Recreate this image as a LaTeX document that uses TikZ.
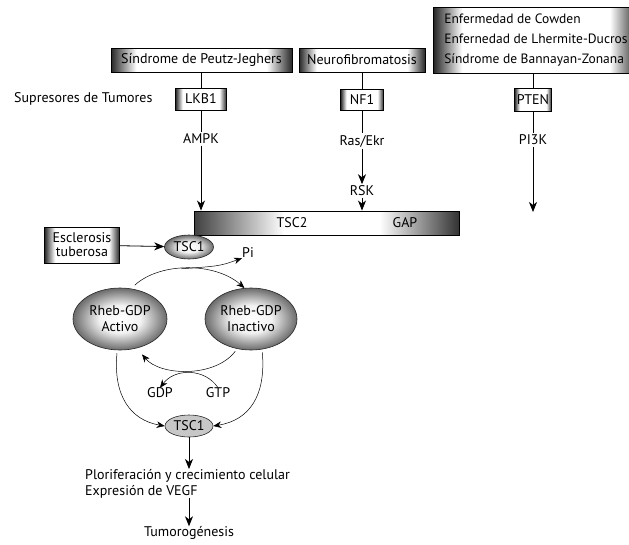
\documentclass[tikz,border=0pt]{standalone}
\usepackage{fontspec}
\setmainfont{PT Sans}
\usetikzlibrary{arrows.meta, positioning, shapes.geometric}

\pgfdeclarehorizontalshading{boxshade}{100bp}{color(0bp)=(black!85); color(25bp)=(black!85); color(32bp)=(white); color(68bp)=(white); color(75bp)=(black!85); color(100bp)=(black!85)}
\pgfdeclareradialshading{ovalshade}{\pgfpoint{0bp}{0bp}}{color(0bp)=(white); color(11bp)=(black!5); color(25bp)=(black!58); color(50bp)=(black!58)}
\pgfdeclarehorizontalshading{barshade}{100bp}{color(0bp)=(black!75); color(25bp)=(black!75); color(42bp)=(white); color(60bp)=(white); color(75bp)=(black!80); color(100bp)=(black!80)}

\begin{document}
\begin{tikzpicture}[x=1pt, y=-1pt,
  gbox/.style={rectangle, draw=black, line width=0.9pt, shading=boxshade,
    align=center, inner sep=0pt, minimum height=24pt,
    font=\fontsize{14}{16}\selectfont},
  gbar/.style={rectangle, draw=black, line width=0.9pt, shading=barshade,
    inner sep=0pt},
  goval/.style={ellipse, draw=black!85, line width=0.6pt, shading=ovalshade,
    align=center, inner sep=0pt,
    font=\fontsize{14}{16}\selectfont},
  lbl/.style={fill=white, inner sep=1.5pt, font=\fontsize{14}{16}\selectfont},
  txt/.style={inner sep=0pt, font=\fontsize{14}{16}\selectfont},
  arr/.style={-{Stealth[length=10pt, width=8pt, inset=3pt]}, line width=0.8pt},
  carr/.style={-{Stealth[length=8pt, width=6.5pt, inset=2.5pt]}, line width=0.5pt}
]
\clip (0,0) rectangle (629,544);

%% --- Diseases ---
\node[gbox, minimum width=181pt] (peutz) at (201.5,60) {Síndrome de Peutz-Jeghers};
\node[gbox, minimum width=126pt] (neuro) at (362,60) {Neurofibromatosis};
\node[gbox, anchor=west, minimum width=205pt, minimum height=66pt,
      align=left, inner xsep=10pt,
      font=\fontsize{13.5}{20}\selectfont]
  (cowden) at (433,40)
  {Enfermedad de Cowden\\Enfernedad de Lhermite-Ducros\\Síndrome de Bannayan-Zonana};

%% --- Suppressors ---
\node[txt, anchor=west] (supr) at (14,99) {Supresores de Tumores};
\node[gbox, minimum width=51pt, minimum height=22pt] (lkb) at (201,99) {LKB1};
\node[gbox, minimum width=43pt, minimum height=21pt] (nf) at (362,100) {NF1};
\node[gbox, minimum width=37pt, minimum height=23pt] (pten) at (533,100) {PTEN};

%% --- Kinases ---
\node[lbl] (ampk) at (201,139) {AMPK};
\node[lbl] (ras) at (362,141) {Ras/Ekr};
\node[lbl] (rsk) at (362,191) {RSK};
\node[lbl] (pik) at (533,140) {PI3K};
\coordinate (pend) at (533,212);

%% --- TSC complex ---
\node[gbar, minimum width=265pt, minimum height=24pt] (tsc2) at (326.5,223) {};
\node[txt] (tsctxt) at (292,223) {TSC2};
\node[txt] (gap) at (405,223) {GAP};
\node[goval, minimum width=49pt, minimum height=24pt] (tsca) at (189,247) {TSC1};
\node[gbox, minimum width=75pt, minimum height=36pt,
      font=\fontsize{14}{14}\selectfont] (escl) at (82,245) {Esclerosis\\tuberosa};
\node[txt] (pi) at (248,253) {Pi};

%% --- Rheb cycle ---
\node[goval, minimum width=94pt, minimum height=62pt] (activo) at (120,319) {Rheb-GDP\\Activo};
\node[goval, minimum width=92pt, minimum height=62pt] (inact) at (251,319) {Rheb-GDP\\Inactivo};
\node[txt] (gdp) at (160,393) {GDP};
\node[txt] (gtp) at (218,393) {GTP};
\node[ellipse, draw=black!85, fill=black!22, line width=0.6pt, inner sep=0pt,
      minimum width=48pt, minimum height=22pt,
      font=\fontsize{14}{16}\selectfont] (tscb) at (189,426) {TSC1};

%% --- Outcome ---
\node[txt, align=left, anchor=north west, font=\fontsize{14}{16}\selectfont]
  (prolif) at (85,469) {Ploriferación y crecimiento celular\\Expresión de VEGF};
\node[txt] (tumor) at (189,533) {Tumorogénesis};

%% --- Upper pathways ---
\draw[line width=0.6pt] (peutz.south -| lkb) -- (lkb.north);
\draw[line width=0.6pt] (lkb) -- (ampk);
\draw[arr] (ampk) -- (ampk |- tsc2.north);
\draw[line width=0.6pt] (neuro) -- (nf);
\draw[line width=0.6pt] (nf) -- (ras);
\draw[arr] (ras) -- (rsk.north);
\draw[arr] (rsk) -- (rsk |- tsc2.north);
\draw[line width=0.6pt] (cowden.south -| pten) -- (pten.north);
\draw[line width=0.6pt] (pten) -- (pik);
\draw[arr] (pik) -- (pend);

%% --- TSC1 / cycle ---
\draw[arr] (escl) -- (tsca);
\draw[carr, shorten <=5pt] (activo.70) .. controls (160,262) and (215,262) ..
  node[coordinate, pos=0.45] (fork) {} (inact.102);
\draw[carr] (fork) .. controls (220,266) .. (pi.south west);
\draw[carr, shorten <=3pt, shorten >=8pt] (inact.245) .. controls (215,378) and (160,376) .. (activo.300);
\draw[carr] (gtp.north) .. controls (205,368) and (175,368) .. (gdp.north);
\draw[carr, shorten <=3pt] (activo.265) .. controls (113,395) and (130,420) .. (tscb.west);
\draw[carr, shorten <=3pt] (inact.290) .. controls (266,395) and (250,420) .. (tscb.east);

%% --- Outcome arrows ---
\draw[arr] (tscb) -- (tscb |- prolif.north);
\draw[arr] (prolif.south -| tumor) -- (tumor);

\end{tikzpicture}
\end{document}
